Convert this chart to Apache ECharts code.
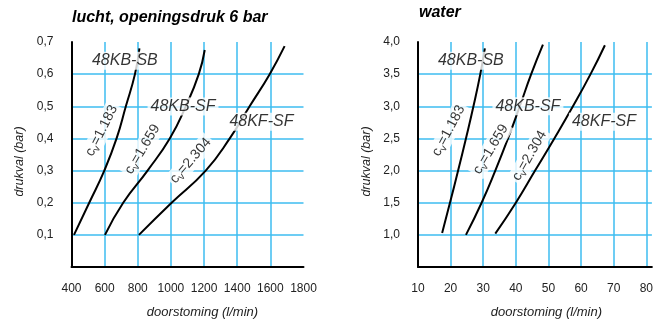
<!DOCTYPE html>
<html>
<head>
<meta charset="utf-8">
<script src="https://cdn.jsdelivr.net/npm/echarts@6/dist/echarts.min.js"></script>
<style>
  html, body { margin: 0; padding: 0; background: #fff; }
  #chart { width: 656px; height: 324px; }
</style>
</head>
<body>
<div id="chart"></div>
<script>
// lucht, openingsdruk 6 bar: [doorstroming l/min, drukval bar]
const airKBSB = [[415, 0.1], [507, 0.2], [598, 0.3], [672, 0.4], [728, 0.5], [783, 0.6], [810, 0.68]]
const airKBSF = [[602, 0.1], [712, 0.2], [859, 0.3], [993, 0.4], [1090, 0.5], [1168, 0.6], [1204, 0.675]]
const airKFSF = [[807, 0.1], [1004, 0.2], [1210, 0.3], [1355, 0.4], [1475, 0.5], [1596, 0.6], [1686, 0.687]]

// water
const waterKBSB = [[17.4, 1.03], [19.8, 1.5], [22.3, 2.0], [24.7, 2.5], [27.0, 3.0], [29.1, 3.5], [30.5, 3.9]]
const waterKBSF = [[24.7, 1.0], [29.5, 1.5], [33.7, 2.0], [37.6, 2.5], [41.2, 3.0], [44.7, 3.5], [48.3, 3.96]]
const waterKFSF = [[33.7, 1.02], [40.0, 1.5], [45.9, 2.0], [51.8, 2.5], [57.5, 3.0], [62.9, 3.5], [67.3, 3.95]]

const models = ['48KB-SB', '48KB-SF', '48KF-SF']
const cvValues = ['1.183', '1.659', '2.304']

// where the curve names sit, in data units
const airModelAt = [[722, 0.642], [1073, 0.499], [1546, 0.452]]
const airCvAt = [[582, 0.424], [828, 0.366], [1119, 0.331]]
const waterModelAt = [[26.2, 3.71], [43.7, 3.0], [67.0, 2.76]]
const waterCvAt = [[19.4, 2.62], [32.3, 2.33], [44.2, 2.23]]

const font = "'Liberation Sans', Arial, Helvetica, sans-serif"
const blue = '#3dbdf0'
const cvTilt = [[63, 59, 49], [62, 59, 60]]

const comma = v => v.toFixed(1).replace('.', ',')

function curve (data, i) {
  return {
    type: 'line',
    xAxisIndex: i,
    yAxisIndex: i,
    data: data,
    smooth: 0.5,
    symbol: 'none',
    silent: true,
    z: 2,
    lineStyle: { color: '#000', width: 2 }
  }
}

function names (modelAt, cvAt, tilt, i) {
  const items = []
  modelAt.forEach((p, k) => {
    items.push({ value: p, label: { formatter: models[k], fontStyle: 'italic', fontSize: 16, padding: [1, 3] } })
  })
  cvAt.forEach((p, k) => {
    items.push({ value: p, label: { formatter: '{c|c}{v|v}{c|=' + cvValues[k] + '}', rotate: tilt[k], padding: [0, 2] } })
  })
  return {
    type: 'scatter',
    xAxisIndex: i,
    yAxisIndex: i,
    symbolSize: 0,
    silent: true,
    z: 5,
    data: items,
    label: {
      show: true,
      position: 'inside',
      color: '#000',
      textBorderWidth: 0,
      textBorderColor: 'transparent',
      fontFamily: font,
      backgroundColor: '#fff',
      rich: {
        c: { fontSize: 14, fontFamily: font, color: '#000', lineHeight: 18, textBorderWidth: 0 },
        v: { fontSize: 10, fontFamily: font, color: '#000', lineHeight: 18, verticalAlign: 'bottom', textBorderWidth: 0 }
      }
    }
  }
}

function xAxis (i, min, max, interval, nameShift) {
  return {
    type: 'value',
    gridIndex: i,
    min: min,
    max: max,
    interval: interval,
    name: 'doorstoming (l/min)',
    nameLocation: 'middle',
    nameGap: 39,
    nameTextStyle: { fontFamily: font, fontStyle: 'italic', fontSize: 13, color: '#222', padding: [0, 0, 0, nameShift] },
    axisLine: { lineStyle: { color: '#000', width: 2 } },
    axisTick: { show: false },
    axisLabel: {
      color: '#222',
      fontFamily: font,
      fontSize: 12,
      margin: 16,
      formatter: v => (v % interval === 0 ? String(v) : '')
    },
    splitLine: { show: true, showMinLine: false, showMaxLine: false, lineStyle: { color: blue, width: 1.5 } }
  }
}

function yAxis (i, min, max, interval) {
  return {
    type: 'value',
    gridIndex: i,
    min: min,
    max: max,
    interval: interval,
    name: 'drukval (bar)',
    nameLocation: 'middle',
    nameGap: 45,
    nameTextStyle: { fontFamily: font, fontStyle: 'italic', fontSize: 12.5, color: '#222', padding: [0, 14, 0, 0] },
    axisLine: { lineStyle: { color: '#000', width: 2 } },
    axisTick: { show: false },
    axisLabel: { color: '#222', fontFamily: font, fontSize: 12, margin: 18, showMinLabel: false, formatter: comma },
    splitLine: { show: true, showMinLine: false, showMaxLine: false, lineStyle: { color: blue, width: 1.5 } }
  }
}

const chart = echarts.init(document.getElementById('chart'), null, { renderer: 'canvas' })
chart.setOption({
  animation: false,
  backgroundColor: '#fff',
  title: [{
    text: '{b|lucht}{n|, openingsdruk 6 bar}',
    left: 72,
    top: 10,
    padding: 0,
    textStyle: {
      rich: {
        b: { fontFamily: font, fontSize: 16, fontWeight: 'bold', fontStyle: 'italic', color: '#000' },
        n: { fontFamily: font, fontSize: 16, fontStyle: 'italic', color: '#000' }
      }
    }
  }, {
    text: 'water',
    left: 419,
    top: 5,
    padding: 0,
    textStyle: { fontFamily: font, fontSize: 16, fontWeight: 'bold', fontStyle: 'italic', color: '#000' }
  }],
  grid: [
    { left: 71.5, top: 42, width: 232, height: 232 },
    { left: 418, top: 42, width: 238, height: 232 }
  ],
  xAxis: [xAxis(0, 400, 1800, 200, 30), xAxis(1, 10, 81.7, 10, 23)],
  yAxis: [yAxis(0, 0, 0.7, 0.1), yAxis(1, 0.5, 4.0, 0.5)],
  series: [
    curve(airKBSB, 0),
    curve(airKBSF, 0),
    curve(airKFSF, 0),
    curve(waterKBSB, 1),
    curve(waterKBSF, 1),
    curve(waterKFSF, 1),
    names(airModelAt, airCvAt, cvTilt[0], 0),
    names(waterModelAt, waterCvAt, cvTilt[1], 1)
  ]
})
</script>
</body>
</html>
